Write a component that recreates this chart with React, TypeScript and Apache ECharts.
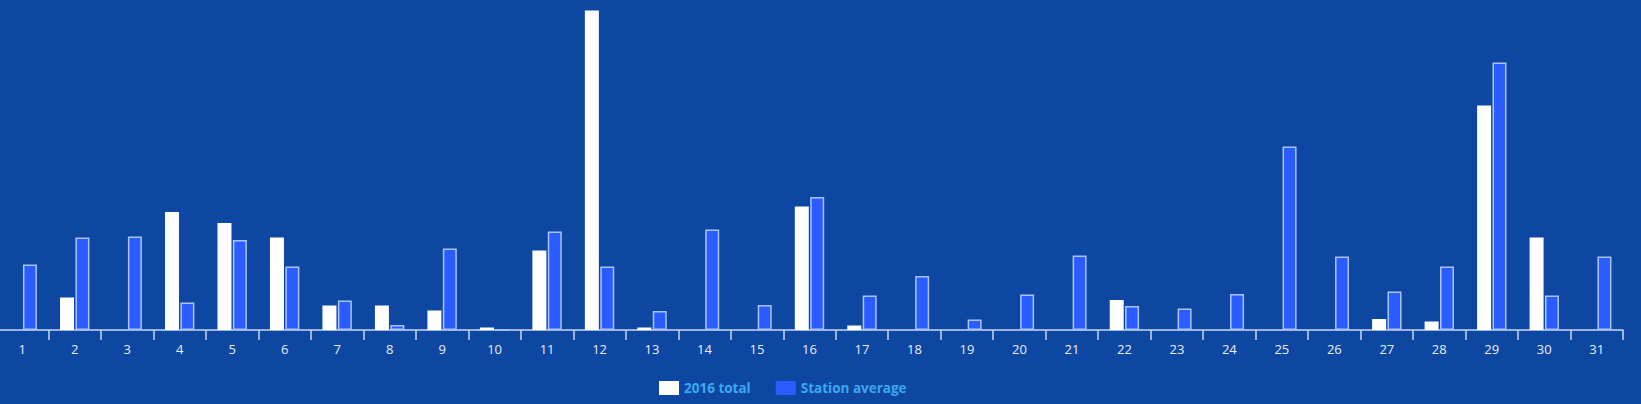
import React, { useEffect, useRef } from "react";
import * as echarts from "echarts";

const days = Array.from({ length: 31 }, (_, i) => String(i + 1));
const total2016 = [0, 6.5, 0, 23.6, 21.4, 18.5, 4.9, 4.9, 3.9, 0.5, 15.9, 63.9, 0.5, 0, 0, 24.7, 0.9, 0, 0, 0, 0, 6.0, 0, 0, 0, 0, 2.2, 1.7, 44.9, 18.5, 0];
const stationAverage = [13.1, 18.5, 18.7, 5.5, 18.0, 12.7, 5.9, 1.0, 16.3, 0, 19.7, 12.7, 3.8, 20.1, 5.0, 26.6, 6.9, 10.8, 2.1, 7.1, 14.9, 4.8, 4.3, 7.2, 36.7, 14.7, 7.7, 12.7, 53.5, 6.9, 14.7];
const seriesNames = ["2016 total", "Station average"];

export default function App() {
  const ref = useRef<HTMLDivElement>(null);
  useEffect(() => {
    if (!ref.current) return;
    const chart = echarts.init(ref.current, undefined, { renderer: "svg" });
    chart.setOption({
      animation: false,
      backgroundColor: "#0e47a1",
      grid: { left: 0, right: 18, top: 10, bottom: 74, containLabel: false },
      legend: {
        left: 658,
        top: 376,
        icon: "rect",
        itemWidth: 20,
        itemHeight: 14,
        itemGap: 25,
        textStyle: { color: "#3aa8f0", fontWeight: "bold", fontSize: 13.5, fontFamily: "Open Sans" },
        data: [
          { name: seriesNames[0], itemStyle: { color: "#ffffff", borderWidth: 0 } },
          { name: seriesNames[1], itemStyle: { color: "#2a5cff", borderWidth: 0 } },
        ],
      },
      xAxis: {
        type: "category",
        data: days,
        axisLine: { show: true, lineStyle: { color: "#c9d8f7", width: 1.5 } },
        axisTick: { show: true, lineStyle: { color: "#c9d8f7", width: 1.5 }, length: 10 },
        axisLabel: { color: "#e8eeff", fontSize: 13, fontFamily: "Open Sans", margin: 12 },
      },
      yAxis: { type: "value", min: 0, max: 64, show: false, splitLine: { show: false } },
      series: [
        {
          name: seriesNames[0],
          type: "bar",
          data: total2016,
          barWidth: 14,
          barGap: "10%",
          itemStyle: { color: "#ffffff" },
        },
        {
          name: seriesNames[1],
          type: "bar",
          data: stationAverage,
          barWidth: 14,
          itemStyle: { color: "#2a5cff", borderColor: "#a9c4ff", borderWidth: 1.5 },
        },
      ],
    });
    return () => chart.dispose();
  }, []);
  return <div ref={ref} style={{ position: "fixed", left: -4, top: 0, width: 1645, height: 404 }} />;
}
